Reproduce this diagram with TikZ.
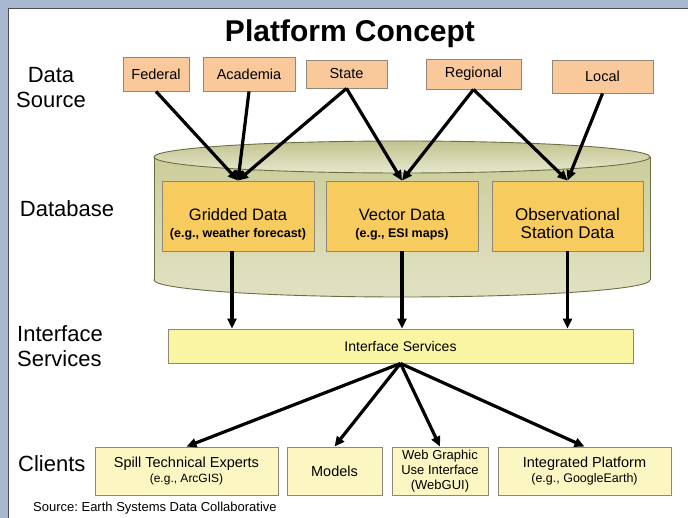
\documentclass[tikz,border=0pt]{standalone}
\usepackage{fontspec}
\setmainfont{Liberation Sans}
\usetikzlibrary{arrows.meta}
\frenchspacing

\definecolor{frame}{HTML}{A9B8D1}
\definecolor{srcfill}{HTML}{F9C99C}
\definecolor{datafill}{HTML}{F8CB5F}
\definecolor{ifacefill}{HTML}{F9F5A2}
\definecolor{clientfill}{HTML}{FBF6C2}
\definecolor{cylbody}{HTML}{CCCD9A}
\definecolor{cylbot}{HTML}{DFE0BF}
\definecolor{cyltop}{HTML}{E6E8CE}
\definecolor{cyltopdark}{HTML}{C2C38E}
\definecolor{cylline}{HTML}{6E6E44}
\definecolor{boxline}{HTML}{8E8878}

\newcommand{\egfont}{\fontsize{12.5}{14}\selectfont\bfseries}
\newcommand{\topgap}{\rule{0pt}{28pt}}

\tikzset{
  box/.style={draw=boxline, line width=0.9pt, inner sep=1pt, align=center},
  srcbox/.style={box, fill=srcfill, font=\fontsize{14.5}{16}\selectfont},
  databox/.style={box, fill=datafill, minimum width=152pt, minimum height=70pt,
    font=\fontsize{16.5}{16}\selectfont},
  ifacebox/.style={box, fill=ifacefill, minimum width=465pt, minimum height=34pt,
    font=\fontsize{14}{16}\selectfont},
  clientbox/.style={box, fill=clientfill, minimum height=48pt,
    font=\fontsize{14.5}{14.5}\selectfont},
  side/.style={font=\fontsize{22}{25}\selectfont, align=left, inner sep=0pt},
  flow/.style={line width=3.2pt, -{Triangle[length=10pt,width=9pt]}},
}

\begin{document}
\begin{tikzpicture}[x=1pt,y=-1pt]
\useasboundingbox (0,0) rectangle (688,518);
\fill[frame] (0,0) rectangle (688,518);
\draw[fill=white, draw=black!70, line width=0.8pt] (8,8) rectangle (692,522);

\node[font=\fontsize{30}{30}\selectfont\bfseries, anchor=base] (title) at (350,42) {Platform Concept};

% database cylinder
\draw[cylline, fill=cylbot, line width=0.9pt] (402,280) ellipse [x radius=248, y radius=17];
\shade[top color=cylbody, bottom color=cylbot] (154,157) rectangle (650,280);
\draw[cylline, line width=0.9pt] (154,157) -- (154,280) (650,157) -- (650,280);
\draw[cylline, line width=0.9pt, top color=cyltopdark, bottom color=cyltop] (402,157) ellipse [x radius=248, y radius=16];

% sources
\node[srcbox, minimum width=66pt, minimum height=34pt] (fed) at (156,74) {Federal};
\node[srcbox, minimum width=92pt, minimum height=34pt] (acad) at (249,74) {Academia};
\node[srcbox, minimum width=81pt, minimum height=28pt] (state) at (346.5,74) {State};
\node[srcbox, minimum width=95pt, minimum height=30pt] (reg) at (473.5,74) {Regional};
\node[srcbox, minimum width=101pt, minimum height=33pt] (local) at (602.5,76.5) {Local};

% stores
\node[databox] (grid) at (238,216) {\topgap Gridded Data\\[1pt]{\egfont (e.g., weather forecast)}};
\node[databox] (vec) at (402,216) {\topgap Vector Data\\[1pt]{\egfont (e.g., ESI maps)}};
\node[databox, minimum width=151pt, font=\fontsize{17}{18}\selectfont] (obs) at (567.5,216) {\topgap Observational\\Station Data};

\node[ifacebox] (iface) at (400.5,346) {Interface Services};

% clients
\node[clientbox, minimum width=183pt] (spill) at (186.5,471) {Spill Technical Experts\\{\fontsize{12}{14}\selectfont (e.g., ArcGIS)}};
\node[clientbox, minimum width=95pt] (models) at (334.5,471) {Models};
\node[clientbox, minimum width=96pt, font=\fontsize{13}{15}\selectfont] (webgui) at (440,471) {Web Graphic\\Use Interface\\(WebGUI)};
\node[clientbox, minimum width=173pt] (integ) at (584.5,471) {Integrated Platform\\{\fontsize{12.5}{14}\selectfont (e.g., GoogleEarth)}};

\foreach \s/\d in {fed/grid, acad/grid, state/grid, state/vec, reg/vec, reg/obs, local/obs}
  \draw[flow] (\s.south) -- (\d.north);
\foreach \d/\dx in {grid/-6,vec/0,obs/0}
  \draw[flow] ([xshift=\dx pt]\d.south) -- ([xshift=\dx pt]\d.south |- iface.north);
\foreach \c in {spill,models,webgui,integ}
  \draw[flow] (iface.south) -- (\c.north);

% layer names
\node[side, align=center] (srclbl) at (51,88) {Data\\Source};
\node[side] (dblbl) at (67,209) {Database};
\node[side, anchor=west] (iflbl) at (17,346) {Interface\\Services};
\node[side, anchor=west] (cllbl) at (18,464) {Clients};
\node[anchor=base west, inner sep=0pt, font=\fontsize{13}{14}\selectfont] (credit) at (33,511) {Source: Earth Systems Data Collaborative};
\end{tikzpicture}
\end{document}
